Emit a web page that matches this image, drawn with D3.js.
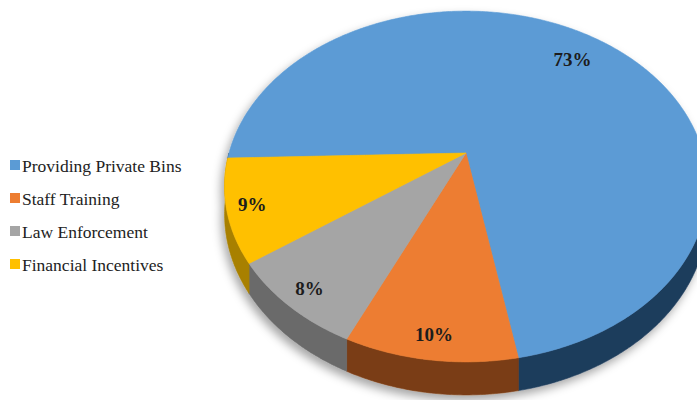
<!DOCTYPE html>
<html>
<head>
<meta charset="utf-8">
<script src="https://cdn.jsdelivr.net/npm/d3@7"></script>
<style>
  html, body { margin: 0; padding: 0; background: #fff; }
  svg { display: block; }
</style>
</head>
<body>
<svg id="chart" width="697" height="400"></svg>
<script>
// ---- data ----
const categories = ["Providing Private Bins", "Staff Training", "Law Enforcement", "Financial Incentives"];
const values = [72.6, 9.7, 8.3, 9.4];
const faceColors = ["#5b9bd5", "#ed7d31", "#a5a5a5", "#ffc000"];
const sideColors = ["#1f3d5c", "#7a3c14", "#6a6a6a", "#a88000"];

// ---- geometry / style ----
const W = 697, H = 400;
const cx = 466, cy = 153;      // apex of the pie on screen
const RX = 237, RY = 169;      // horizontal / vertical radii at the centre line
const K = 0.191;               // perspective strength
const DEPTH = 26.7;            // thickness of the pie
const startDeg = 268.3;

const svg = d3.select("#chart");

const defs = svg.append("defs");
const f = defs.append("filter").attr("id", "shadow")
  .attr("x", "-20%").attr("y", "-20%").attr("width", "140%").attr("height", "150%");
f.append("feDropShadow").attr("dx", -3).attr("dy", 5).attr("stdDeviation", 5)
  .attr("flood-color", "#000").attr("flood-opacity", 0.35);

function proj(theta, fr = 1) {
  const sx = Math.sin(theta) * fr, cz = Math.cos(theta) * fr;
  const s = 1 / (1 + K * cz);
  return [cx + RX * sx * s, cy - RY * cz * s, s];
}

const pie = d3.pie().sort(null).value(d => d)
  .startAngle(startDeg * Math.PI / 180)
  .endAngle(startDeg * Math.PI / 180 + 2 * Math.PI);
const arcs = pie(values);
const total = d3.sum(values);
const pct = d3.format(".0%");

function arcPoints(a0, a1) {
  const n = Math.max(2, Math.ceil(Math.abs(a1 - a0) / 0.01));
  return d3.range(n + 1).map(i => a0 + (a1 - a0) * i / n);
}

const g = svg.append("g").attr("filter", "url(#shadow)");

// sides (front half: cos(theta) < 0)
const sides = g.append("g");
arcs.forEach((a, i) => {
  for (let n = 0; n < 3; n++) {
    const lo = Math.PI / 2 + 2 * Math.PI * n, hi = 3 * Math.PI / 2 + 2 * Math.PI * n;
    const b0 = Math.max(a.startAngle, lo), b1 = Math.min(a.endAngle, hi);
    if (b1 <= b0) continue;
    const angs = arcPoints(b0, b1);
    const top = angs.map(t => proj(t));
    const bot = angs.slice().reverse().map(t => { const p = proj(t); return [p[0], p[1] + DEPTH * p[2]]; });
    const pts = top.map(p => [p[0], p[1]]).concat(bot);
    sides.append("path")
      .attr("d", d3.line()(pts) + "Z")
      .attr("fill", sideColors[i])
      .attr("stroke", sideColors[i]).attr("stroke-width", 0.6);
  }
});

// top faces
const faces = g.append("g");
arcs.forEach((a, i) => {
  const pts = [[cx, cy]].concat(arcPoints(a.startAngle, a.endAngle).map(t => { const p = proj(t); return [p[0], p[1]]; }));
  faces.append("path")
    .attr("d", d3.line()(pts) + "Z")
    .attr("fill", faceColors[i])
    .attr("stroke", faceColors[i]).attr("stroke-width", 0.6);
});

// data labels
arcs.forEach((a, i) => {
  const mid = (a.startAngle + a.endAngle) / 2;
  const fr = (a.value / total) > 0.5 ? 0.8 : 0.9;
  const p = proj(mid, fr);
  svg.append("text")
    .attr("x", p[0]).attr("y", p[1])
    .attr("text-anchor", "middle").attr("dominant-baseline", "central")
    .attr("font-family", "'Liberation Serif', 'Times New Roman', serif")
    .attr("font-weight", "bold").attr("font-size", 19)
    .attr("fill", "#1c1c1c")
    .text(pct(a.value / total));
});

// legend
const legend = svg.append("g").attr("transform", "translate(10,165)");
const ly = d3.scalePoint().domain(categories).range([0, 99]);
categories.forEach((c, i) => {
  const row = legend.append("g").attr("transform", `translate(0,${ly(c)})`);
  row.append("rect").attr("x", 0).attr("y", -5).attr("width", 10).attr("height", 10).attr("fill", faceColors[i]);
  row.append("text").attr("x", 12).attr("y", 0.5)
    .attr("dominant-baseline", "central")
    .attr("font-family", "'Liberation Serif', 'Times New Roman', serif")
    .attr("font-size", 17.5).attr("fill", "#222")
    .text(c);
});
</script>
</body>
</html>
